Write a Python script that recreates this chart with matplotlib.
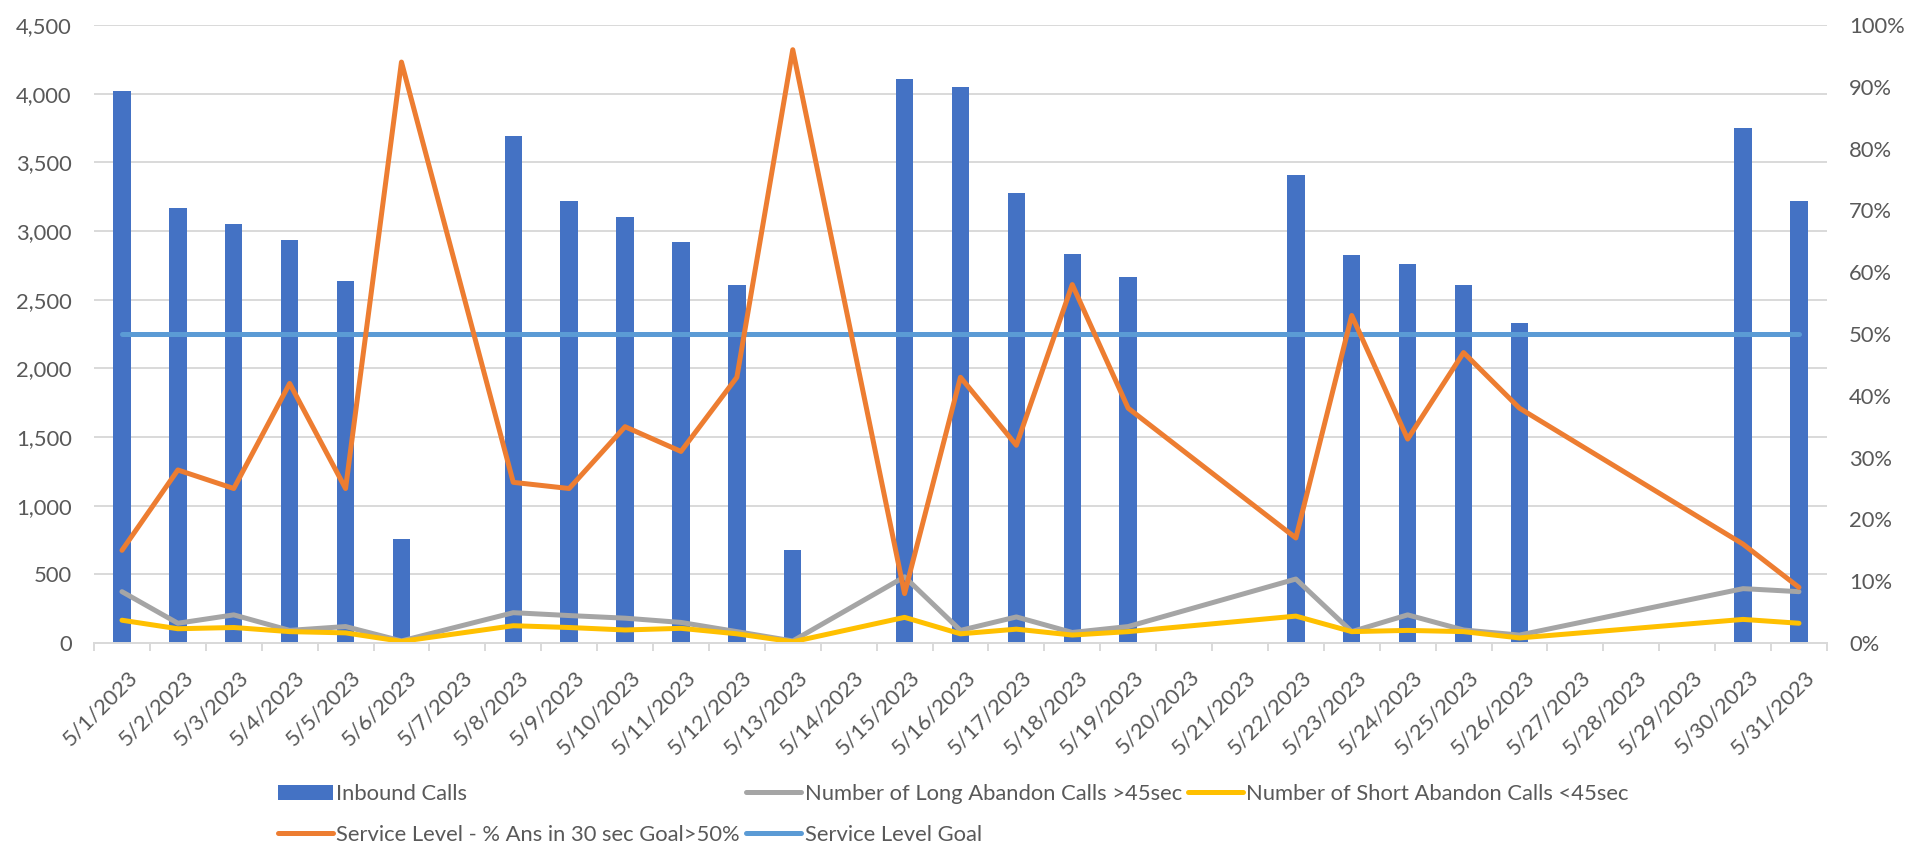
import matplotlib
matplotlib.use("Agg")
import matplotlib.pyplot as plt
import numpy as np
from matplotlib.ticker import FuncFormatter, FixedLocator
from matplotlib.transforms import ScaledTranslation

plt.rcParams['font.family'] = ['Lato', 'DejaVu Sans']

# Days of May 2023 that have data (weekends / gaps are skipped)
days = [1, 2, 3, 4, 5, 6, 8, 9, 10, 11, 12, 13, 15, 16, 17, 18, 19,
        22, 23, 24, 25, 26, 30, 31]
inbound_calls = [4020, 3170, 3050, 2935, 2635, 760, 3690, 3220, 3100, 2920, 2610, 680,
                 4110, 4050, 3280, 2830, 2665, 3405, 2825, 2758, 2610, 2328, 3748, 3215]
long_abandon = [374, 144, 205, 92, 120, 15, 221, 200, 181, 150, 83, 15,
                482, 92, 190, 77, 120, 466, 83, 205, 95, 58, 396, 374]
short_abandon = [166, 104, 113, 83, 74, 12, 126, 113, 95, 107, 67, 9,
                 187, 67, 101, 58, 83, 196, 83, 92, 83, 37, 172, 144]
service_level = [15, 28, 25, 42, 25, 94, 26, 25, 35, 31, 43, 96,
                 8, 43, 32, 58, 38, 17, 53, 33, 47, 38, 16, 9]
goal = 50

all_days = list(range(1, 32))
date_labels = ["5/%d/2023" % d for d in all_days]

text_color = '#595959'
grid_color = '#D9D9D9'
font_size = 15.8

fig = plt.figure(figsize=(19.07, 8.5), dpi=100)
ax = fig.add_axes([0.0493, 0.2435, 0.9087, 0.7271])
ax2 = ax.twinx()

x = np.array(days) - 1
x_all = np.array(all_days) - 1

bars = ax.bar(x, inbound_calls, width=0.31, color='#4472C4', zorder=2,
              label='Inbound Calls')
line_long, = ax.plot(x, long_abandon, color='#A5A5A5', lw=3.6, zorder=3,
                     solid_capstyle='round', solid_joinstyle='round',
                     label='Number of Long Abandon Calls >45sec')
line_short, = ax.plot(x, short_abandon, color='#FFC000', lw=3.6, zorder=4,
                      solid_capstyle='round', solid_joinstyle='round',
                      label='Number of Short Abandon Calls <45sec')

line_goal, = ax2.plot(x_all, [goal] * len(x_all), color='#5B9BD5', lw=3.6,
                      solid_capstyle='round', label='Service Level Goal', zorder=2)
line_sl, = ax2.plot(x, service_level, color='#ED7D31', lw=3.6, zorder=3,
                    solid_capstyle='round', solid_joinstyle='round',
                    label='Service Level - % Ans in 30 sec Goal>50%')

# left axis: call counts
ax.set_xlim(-0.5, 30.5)
ax.set_ylim(0, 4500)
ax.set_yticks(np.arange(0, 4501, 500))
ax.yaxis.set_major_formatter(FuncFormatter(lambda v, p: "{:,.0f}".format(v)))
ax.grid(axis='y', color=grid_color, lw=1.4, zorder=0)
ax.set_axisbelow(True)

# right axis: percentages
ax2.set_ylim(0, 100)
ax2.set_yticks(np.arange(0, 101, 10))
ax2.yaxis.set_major_formatter(FuncFormatter(lambda v, p: "%d%%" % v))

for a in (ax, ax2):
    for s in ('top', 'left', 'right'):
        a.spines[s].set_visible(False)
    a.spines['bottom'].set_color(grid_color)
    a.spines['bottom'].set_linewidth(1.4)
    a.tick_params(axis='y', length=0, labelsize=font_size, labelcolor=text_color, pad=16)

ax.set_xticks(x_all)
ax.set_xticklabels(date_labels, rotation=45, ha='right', va='top',
                   rotation_mode='anchor', fontsize=font_size, color=text_color)
ax.tick_params(axis='x', which='major', length=0, pad=17)
ax.xaxis.set_minor_locator(FixedLocator(np.arange(-0.5, 31, 1)))
ax.tick_params(axis='x', which='minor', length=6, width=1.4, color=grid_color)
shift = ScaledTranslation(5 / 100, 0, fig.dpi_scale_trans)
for lab in ax.get_xticklabels():
    lab.set_transform(lab.get_transform() + shift)

handles = [bars, line_sl, line_long, line_goal, line_short]
labels = [h.get_label() for h in handles]
leg = fig.legend(handles, labels, ncol=3, loc='center',
                 bbox_to_anchor=(0.5, 0.0418), frameon=False,
                 fontsize=font_size, handlelength=2.5, handletextpad=0.15,
                 columnspacing=0.3, labelspacing=0.95)
for t in leg.get_texts():
    t.set_color(text_color)

fig.savefig('out.png', dpi=100)
